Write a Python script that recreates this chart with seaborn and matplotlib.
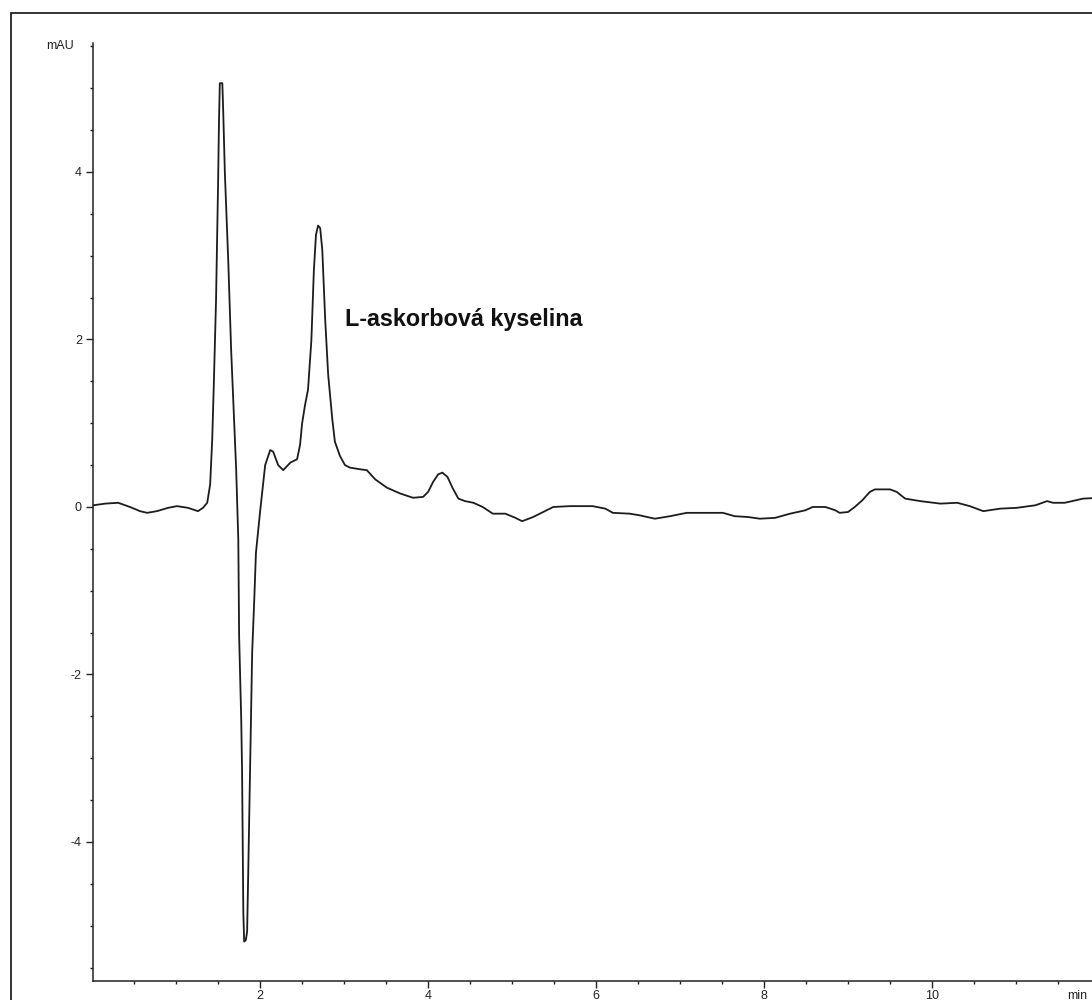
import matplotlib
matplotlib.use("Agg")
from matplotlib import pyplot as plt
from matplotlib.ticker import MultipleLocator
import seaborn as sns
import pandas as pd

# chromatogram trace (retention time in min, signal in mAU)
time_min = [0.01, 0.155, 0.31, 0.45, 0.57, 0.655, 0.77, 0.905, 1.01, 1.14, 1.26, 1.32,
            1.37, 1.405, 1.43, 1.45, 1.475, 1.50, 1.51, 1.52, 1.55, 1.56, 1.58, 1.62,
            1.655, 1.68, 1.715, 1.74, 1.75, 1.775, 1.785, 1.80, 1.81, 1.83, 1.845, 1.857,
            1.88, 1.905, 1.93, 1.95, 2.0, 2.06, 2.12, 2.155, 2.215, 2.275, 2.36, 2.44,
            2.475, 2.50, 2.535, 2.57, 2.61, 2.64, 2.665, 2.69, 2.715, 2.74, 2.775, 2.81,
            2.86, 2.89, 2.95, 3.01, 3.07, 3.19, 3.27, 3.37, 3.51, 3.67, 3.82, 3.94,
            4.0, 4.06, 4.12, 4.17, 4.23, 4.29, 4.36, 4.44, 4.54, 4.65, 4.77, 4.92,
            5.04, 5.12, 5.25, 5.39, 5.49, 5.69, 5.96, 6.11, 6.20, 6.40, 6.52, 6.70,
            6.88, 7.08, 7.30, 7.51, 7.65, 7.81, 7.95, 8.13, 8.31, 8.49, 8.58, 8.73,
            8.85, 8.90, 9.0, 9.08, 9.17, 9.26, 9.32, 9.50, 9.58, 9.68, 9.86, 10.10,
            10.30, 10.45, 10.61, 10.81, 11.01, 11.23, 11.37, 11.44, 11.58, 11.80, 12.0]
signal_mau = [0.02, 0.04, 0.05, 0.0, -0.05, -0.07, -0.05, -0.01, 0.01, -0.01, -0.05, -0.01,
              0.05, 0.27, 0.82, 1.52, 2.47, 3.90, 4.60, 5.06, 5.06, 4.74, 3.99, 2.95,
              1.87, 1.28, 0.44, -0.39, -1.55, -2.54, -3.16, -4.85, -5.19, -5.17, -5.07, -4.44,
              -3.16, -1.74, -1.11, -0.55, -0.05, 0.50, 0.68, 0.66, 0.50, 0.44, 0.53, 0.57,
              0.74, 1.00, 1.22, 1.40, 1.99, 2.83, 3.25, 3.36, 3.33, 3.07, 2.23, 1.58,
              1.04, 0.78, 0.61, 0.50, 0.47, 0.45, 0.44, 0.33, 0.23, 0.16, 0.11, 0.12,
              0.18, 0.30, 0.39, 0.41, 0.36, 0.23, 0.10, 0.07, 0.05, 0.0, -0.08, -0.08,
              -0.13, -0.17, -0.12, -0.05, 0.0, 0.01, 0.01, -0.02, -0.07, -0.08, -0.10, -0.14,
              -0.11, -0.07, -0.07, -0.07, -0.11, -0.12, -0.14, -0.13, -0.08, -0.04, 0.0, 0.0,
              -0.04, -0.07, -0.06, 0.0, 0.08, 0.18, 0.21, 0.21, 0.18, 0.10, 0.07, 0.04,
              0.05, 0.01, -0.05, -0.02, -0.01, 0.02, 0.07, 0.05, 0.05, 0.10, 0.11]

peak_label = "L-askorbová kyselina"
peak_label_pos = (3.01, 2.24)
x_major = [2, 4, 6, 8, 10]
y_major = [-4, -2, 0, 2, 4]

sns.set_style("ticks")
plt.rcParams['font.family'] = ['Liberation Sans', 'DejaVu Sans']
plt.rcParams['axes.unicode_minus'] = False

df = pd.DataFrame({'time': time_min, 'signal': signal_mau})

fig = plt.figure(figsize=(10.92, 10.0), dpi=100)
ax = fig.add_axes([93 / 1092, 0.019, (1100 - 93) / 1092, 0.938])

sns.lineplot(data=df, x='time', y='signal', estimator=None, sort=False,
             color='#1c1c1c', linewidth=1.3, ax=ax)

ax.set_xlim(0.01, 12.0)
ax.set_ylim(-5.66, 5.54)
ax.set_xticks(x_major)
ax.set_yticks(y_major)
ax.xaxis.set_minor_locator(MultipleLocator(0.5))
ax.yaxis.set_minor_locator(MultipleLocator(0.5))
ax.tick_params(axis='both', which='major', length=5, width=1, colors='#222222',
               labelsize=9, labelcolor='#222222')
ax.tick_params(axis='both', which='minor', length=2.2, width=1, colors='#222222')
ax.tick_params(axis='x', which='major', pad=1.5)
ax.tick_params(axis='y', which='major', pad=3)
ax.set_xlabel('')
ax.set_ylabel('')
for side in ['top', 'right']:
    ax.spines[side].set_visible(False)
for side in ['left', 'bottom']:
    ax.spines[side].set_linewidth(1.1)
    ax.spines[side].set_color('#222222')

ax.annotate('mAU', xy=(0, 5.5), xycoords=ax.get_yaxis_transform(),
            xytext=(-14, 0), textcoords='offset points', ha='right', va='center',
            fontsize=9, color='#222222')
ax.annotate('min', xy=(11.85, 0), xycoords=ax.get_xaxis_transform(),
            xytext=(0, -6.5), textcoords='offset points', ha='right', va='top',
            fontsize=9, color='#222222')

ax.text(peak_label_pos[0], peak_label_pos[1], peak_label, ha='left', va='center',
        fontsize=16.8, fontweight='bold', color='#111111')

# outer frame of the report page
frame = matplotlib.patches.Rectangle((11 / 1092, -0.1), 1.2, 1.087,
                                     transform=fig.transFigure, fill=False,
                                     edgecolor='#111111', linewidth=1.2)
fig.patches.append(frame)

fig.savefig('out.png', dpi=100)
